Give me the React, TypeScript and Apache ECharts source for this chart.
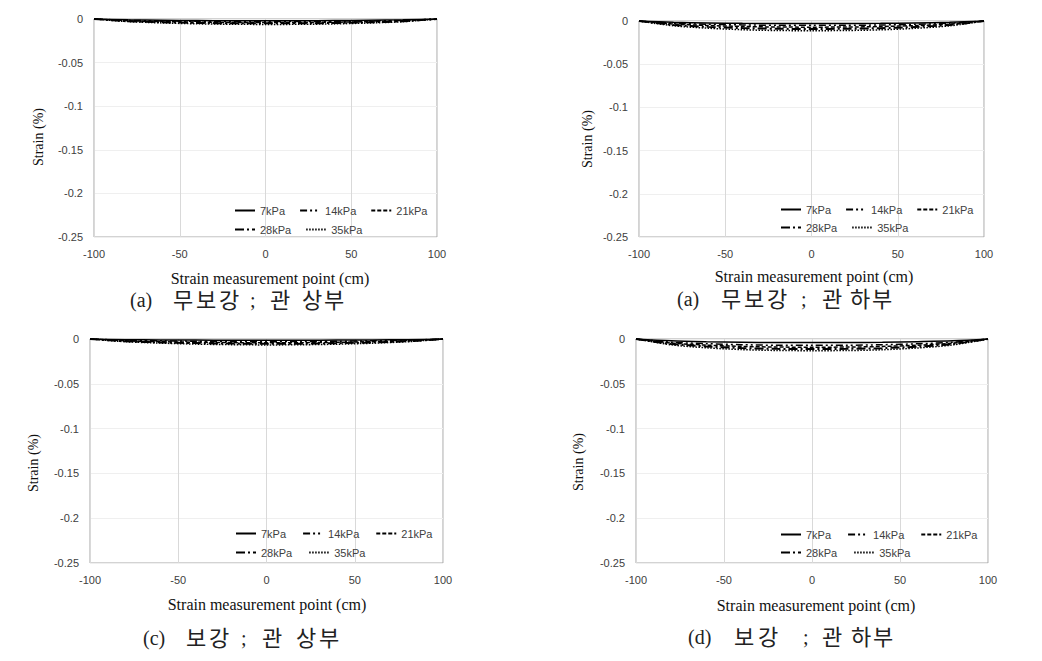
import React, { useEffect, useRef } from "react";
import * as echarts from "echarts";

// ---------- data ----------
const X_POINTS = [-100, -80, -60, -40, -20, 0, 20, 40, 60, 80, 100];
const SERIES_NAMES = ["7kPa", "14kPa", "21kPa", "28kPa", "35kPa"];
const X_TICKS = [-100, -50, 0, 50, 100];
const Y_TICKS = [0, -0.05, -0.1, -0.15, -0.2, -0.25];

// (a) 무보강 ; 관 상부
const A_7KPA = [0, -0.001, -0.0015, -0.0018, -0.002, -0.002, -0.002, -0.0018, -0.0015, -0.001, 0];
const A_14KPA = [0, -0.0015, -0.0022, -0.0027, -0.003, -0.003, -0.003, -0.0028, -0.0023, -0.0016, 0];
const A_21KPA = [0, -0.002, -0.003, -0.0036, -0.004, -0.0041, -0.004, -0.0037, -0.0031, -0.002, 0];
const A_28KPA = [0, -0.0025, -0.0037, -0.0045, -0.0049, -0.005, -0.005, -0.0046, -0.0038, -0.0026, 0];
const A_35KPA = [0, -0.003, -0.0045, -0.0055, -0.006, -0.0062, -0.0061, -0.0056, -0.0046, -0.0031, 0];

// (a) 무보강 ; 관 하부
const B_7KPA = [0, -0.0015, -0.0022, -0.0027, -0.003, -0.003, -0.003, -0.0027, -0.0022, -0.0015, 0];
const B_14KPA = [0, -0.0025, -0.0037, -0.0045, -0.005, -0.005, -0.005, -0.0046, -0.0038, -0.0025, 0];
const B_21KPA = [0, -0.0035, -0.0052, -0.0063, -0.007, -0.0071, -0.007, -0.0064, -0.0053, -0.0036, 0];
const B_28KPA = [0, -0.0045, -0.0068, -0.0082, -0.009, -0.0092, -0.009, -0.0083, -0.0069, -0.0046, 0];
const B_35KPA = [0, -0.0055, -0.0083, -0.0101, -0.011, -0.0112, -0.011, -0.0102, -0.0085, -0.0056, 0];

// (c) 보강 ; 관 상부
const C_7KPA = [0, -0.0007, -0.001, -0.0012, -0.0014, -0.0015, -0.0014, -0.0012, -0.001, -0.0007, 0];
const C_14KPA = [0, -0.0013, -0.002, -0.0025, -0.0028, -0.003, -0.0028, -0.0025, -0.002, -0.0013, 0];
const C_21KPA = [0, -0.002, -0.003, -0.0036, -0.004, -0.0042, -0.0041, -0.0037, -0.003, -0.002, 0];
const C_28KPA = [0, -0.0025, -0.0038, -0.0046, -0.0051, -0.0053, -0.0052, -0.0047, -0.0038, -0.0025, 0];
const C_35KPA = [0, -0.003, -0.0046, -0.0057, -0.0063, -0.0066, -0.0064, -0.0058, -0.0047, -0.003, 0];

// (d) 보강 ; 관 하부
const D_7KPA = [0, -0.002, -0.003, -0.0036, -0.004, -0.004, -0.004, -0.0037, -0.003, -0.002, 0];
const D_14KPA = [0, -0.0035, -0.0052, -0.0063, -0.007, -0.007, -0.007, -0.0064, -0.0053, -0.0036, 0];
const D_21KPA = [0, -0.0045, -0.0068, -0.0082, -0.009, -0.0091, -0.009, -0.0083, -0.0069, -0.0046, 0];
const D_28KPA = [0, -0.0055, -0.0083, -0.0101, -0.011, -0.0111, -0.011, -0.0102, -0.0085, -0.0056, 0];
const D_35KPA = [0, -0.0065, -0.0098, -0.0118, -0.0128, -0.013, -0.0129, -0.012, -0.01, -0.0066, 0];

const X_TITLE = "Strain measurement point (cm)";
const Y_TITLE = "Strain (%)";
const CAPTION_A = ["(a)", "무", "보", "강", ";", "관", "상", "부"];
const CAPTION_B = ["(a)", "무", "보", "강", ";", "관", "하", "부"];
const CAPTION_C = ["(c)", "보", "강", ";", "관", "상", "부"];
const CAPTION_D = ["(d)", "보", "강", ";", "관", "하", "부"];

// ---------- layout ----------
const PANELS = [
  {
    values: [A_7KPA, A_14KPA, A_21KPA, A_28KPA, A_35KPA],
    grid: { left: 94, top: 19, width: 343, height: 218 },
    legend: { left: 234, top1: 205, top2: 224, gap: 14 },
    xTitle: { x: 270, y: 278 },
    yTitle: { x: 38, y: 137 },
    caption: CAPTION_A,
    capX: [130, 173, 196, 219, 250, 270, 302, 324],
    capY: 300,
  },
  {
    values: [B_7KPA, B_14KPA, B_21KPA, B_28KPA, B_35KPA],
    grid: { left: 639, top: 21, width: 345, height: 216 },
    legend: { left: 780, top1: 204, top2: 222, gap: 14 },
    xTitle: { x: 814, y: 276 },
    yTitle: { x: 587, y: 139 },
    caption: CAPTION_B,
    capX: [677, 721, 744, 767, 801, 822, 850, 872],
    capY: 299,
  },
  {
    values: [C_7KPA, C_14KPA, C_21KPA, C_28KPA, C_35KPA],
    grid: { left: 90, top: 339, width: 353, height: 224 },
    legend: { left: 235, top1: 528, top2: 547, gap: 16 },
    xTitle: { x: 267, y: 604 },
    yTitle: { x: 33, y: 463 },
    caption: CAPTION_C,
    capX: [143, 186, 209, 241, 262, 296, 319],
    capY: 638,
  },
  {
    values: [D_7KPA, D_14KPA, D_21KPA, D_28KPA, D_35KPA],
    grid: { left: 636, top: 339, width: 352, height: 224 },
    legend: { left: 780, top1: 529, top2: 547, gap: 16 },
    xTitle: { x: 816, y: 605 },
    yTitle: { x: 578, y: 462 },
    caption: CAPTION_D,
    capX: [688, 734, 758, 803, 822, 851, 873],
    capY: 637,
  },
];

const LINE_STYLES: any[] = [
  { type: "solid", width: 1.5 },
  { type: [7, 3, 2, 3, 2, 3], width: 1.5 },
  { type: [4, 2], width: 1.5 },
  { type: [9, 3, 2, 3], width: 2 },
  { type: [1.5, 1.5], width: 1.5 },
];

const SANS = "'Liberation Sans', Arial, sans-serif";
const SERIF = "'Liberation Serif', 'Times New Roman', serif";
const CAP_FONT = "'Liberation Serif', 'Noto Sans CJK KR', serif";

function buildOption() {
  const grids: any[] = [];
  const xAxes: any[] = [];
  const yAxes: any[] = [];
  const series: any[] = [];
  const legends: any[] = [];
  const graphics: any[] = [];

  PANELS.forEach((p, i) => {
    grids.push({
      ...p.grid,
      show: true,
      borderColor: "#a6a6a6",
      borderWidth: 1,
      backgroundColor: "#fff",
      containLabel: false,
    });
    xAxes.push({
      type: "value",
      gridIndex: i,
      min: X_TICKS[0],
      max: X_TICKS[X_TICKS.length - 1],
      interval: 50,
      position: "bottom",
      axisLine: { show: false, onZero: false },
      axisTick: { show: false },
      splitLine: { show: true, lineStyle: { color: "#d9d9d9", width: 1 } },
      axisLabel: { color: "#404040", fontSize: 11, fontFamily: SANS, margin: 11 },
    });
    yAxes.push({
      type: "value",
      gridIndex: i,
      min: Y_TICKS[Y_TICKS.length - 1],
      max: Y_TICKS[0],
      interval: 0.05,
      axisLine: { show: false },
      axisTick: { show: false },
      splitLine: { show: true, lineStyle: { color: "#efefef", width: 1 } },
      axisLabel: {
        color: "#404040",
        fontSize: 11,
        fontFamily: SANS,
        margin: 11,
        formatter: (v: number) => String(Math.round(v * 100) / 100),
      },
    });
    SERIES_NAMES.forEach((name, k) => {
      series.push({
        type: "line",
        name,
        xAxisIndex: i,
        yAxisIndex: i,
        data: X_POINTS.map((x, j) => [x, p.values[k][j]]),
        symbol: "none",
        showSymbol: false,
        smooth: 0.3,
        lineStyle: { color: "#000", ...LINE_STYLES[k] },
        itemStyle: { color: "transparent", opacity: 0, borderWidth: 0 },
        z: 3,
      });
    });
    const legendBase = {
      orient: "horizontal",
      itemWidth: 20,
      itemHeight: 10,
      itemGap: p.legend.gap,
      padding: 0,
      selectedMode: false,
      itemStyle: { color: "transparent", opacity: 0, borderWidth: 0 },
      textStyle: { fontSize: 11, color: "#404040", fontFamily: SANS },
    };
    legends.push({ ...legendBase, left: p.legend.left, top: p.legend.top1, data: SERIES_NAMES.slice(0, 3) });
    legends.push({ ...legendBase, left: p.legend.left, top: p.legend.top2, data: SERIES_NAMES.slice(3) });

    graphics.push({
      type: "text",
      x: p.xTitle.x,
      y: p.xTitle.y,
      style: {
        text: X_TITLE,
        fill: "#111",
        font: `16px ${SERIF}`,
        textAlign: "center",
        textVerticalAlign: "middle",
      },
    });
    graphics.push({
      type: "text",
      x: p.yTitle.x,
      y: p.yTitle.y,
      rotation: Math.PI / 2,
      style: {
        text: Y_TITLE,
        fill: "#111",
        font: `14px ${SERIF}`,
        textAlign: "center",
        textVerticalAlign: "middle",
      },
    });
    p.caption.forEach((tok, t) => {
      const isLatin = /^[\x00-\x7f]+$/.test(tok);
      graphics.push({
        type: "text",
        x: p.capX[t],
        y: p.capY,
        style: {
          text: tok,
          fill: "#222",
          font: `${isLatin ? 20 : 22}px ${CAP_FONT}`,
          textAlign: "left",
          textVerticalAlign: "middle",
        },
      });
    });
  });

  return {
    animation: false,
    backgroundColor: "#fff",
    grid: grids,
    xAxis: xAxes,
    yAxis: yAxes,
    legend: legends,
    series,
    graphic: graphics,
  };
}

export default function App() {
  const ref = useRef<HTMLDivElement>(null);
  useEffect(() => {
    if (!ref.current) return;
    const chart = echarts.init(ref.current, null, { renderer: "svg" });
    chart.setOption(buildOption() as any);
    return () => chart.dispose();
  }, []);
  return (
    <div
      ref={ref}
      style={{ position: "fixed", left: 0, top: 0, width: 1042, height: 661, background: "#fff" }}
    />
  );
}
